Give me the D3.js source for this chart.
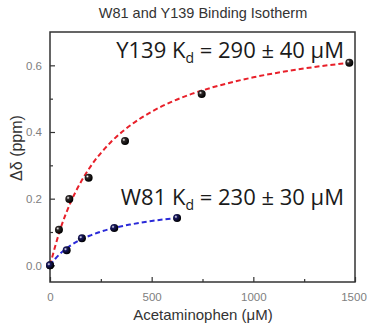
<!DOCTYPE html>
<html>
<head>
<meta charset="utf-8">
<script src="https://cdn.jsdelivr.net/npm/d3@7"></script>
<style>
  body { margin: 0; background: #fff; }
  svg { display: block; }
</style>
</head>
<body>
<svg id="chart" width="367" height="324"></svg>
<script>
// Y139 measured points
const y139X = [0, 44, 95, 190, 369, 746, 1472];
const y139Y = [0, 0.107, 0.199, 0.263, 0.373, 0.514, 0.608];
// W81 measured points
const w81X = [0, 82, 157, 316, 625];
const w81Y = [0, 0.045, 0.081, 0.112, 0.142];
// fitted binding curves
const y139FitX = [0, 50, 100, 150, 200, 300, 400, 500, 600, 700, 800, 1000, 1200, 1475];
const y139FitY = [0, 0.107, 0.187, 0.248, 0.297, 0.370, 0.422, 0.461, 0.491, 0.515, 0.534, 0.564, 0.586, 0.608];
const w81FitX = [0, 25, 50, 100, 150, 200, 300, 400, 500, 625];
const w81FitY = [0, 0.019, 0.035, 0.059, 0.077, 0.090, 0.110, 0.123, 0.133, 0.142];

const xMajor = [0, 500, 1000, 1500];
const xMinor = [250, 750, 1250];
const yMajor = [0, 0.2, 0.4, 0.6];
const yMinor = [0.1, 0.3, 0.5];

const svg = d3.select("#chart");
const margin = {top: 32, right: 12, bottom: 42, left: 50};
const width = 367 - margin.left - margin.right,
      height = 324 - margin.top - margin.bottom;

const x = d3.scaleLinear().domain([0, 1500]).range([0, width]);
const y = d3.scaleLinear().domain([-0.05, 0.70]).range([height, 0]);

// gradients for the shaded ball markers
const defs = svg.append("defs");
function ball(id, dark) {
  const g = defs.append("radialGradient").attr("id", id)
    .attr("cx", "35%").attr("cy", "35%").attr("r", "65%");
  g.append("stop").attr("offset", "0%").attr("stop-color", "#ffffff");
  g.append("stop").attr("offset", "30%").attr("stop-color", dark);
  g.append("stop").attr("offset", "100%").attr("stop-color", "#000000");
}
ball("ballRed", "#2e2828");
ball("ballBlue", "#181860");

// title
svg.append("text")
  .attr("x", 203).attr("y", 18)
  .attr("text-anchor", "middle")
  .style("font-family", "Liberation Sans, Arial, sans-serif")
  .style("font-size", "14.5px")
  .style("fill", "#333")
  .text("W81 and Y139 Binding Isotherm");

const g = svg.append("g")
  .attr("transform", "translate(" + margin.left + "," + margin.top + ")");

// frame
g.append("rect")
  .attr("x", 0).attr("y", 0)
  .attr("width", width).attr("height", height)
  .attr("fill", "none")
  .attr("stroke", "#333")
  .attr("stroke-width", 1.5);

// ticks point inward
const tickStyle = sel => {
  sel.select(".domain").remove();
  sel.selectAll(".tick line").attr("stroke", "#333").attr("stroke-width", 1.2);
  sel.selectAll(".tick text")
    .style("font-family", "Liberation Sans, Arial, sans-serif")
    .style("font-size", "11.5px")
    .style("fill", "#808080");
};

g.append("g")
  .attr("transform", "translate(0," + height + ")")
  .call(d3.axisBottom(x).tickValues(xMajor).tickSizeInner(-5).tickSizeOuter(0)
    .tickPadding(11).tickFormat(d3.format("d")))
  .call(tickStyle)
  .selectAll(".tick text")
    .attr("dx", d => d === 1500 ? -1.5 : 0);
g.append("g")
  .attr("transform", "translate(0," + height + ")")
  .call(d3.axisBottom(x).tickValues(xMinor).tickSizeInner(-3).tickSizeOuter(0).tickFormat(""))
  .call(tickStyle);

g.append("g")
  .call(d3.axisLeft(y).tickValues(yMajor).tickSizeInner(-5).tickSizeOuter(0)
    .tickPadding(8).tickFormat(d3.format(".1f")))
  .call(tickStyle);
g.append("g")
  .call(d3.axisLeft(y).tickValues(yMinor).tickSizeInner(-3).tickSizeOuter(0).tickFormat(""))
  .call(tickStyle);

// axis titles
svg.append("text")
  .attr("x", 203).attr("y", 320)
  .attr("text-anchor", "middle")
  .style("font-family", "Liberation Sans, Arial, sans-serif")
  .style("font-size", "15px")
  .style("fill", "#333")
  .text("Acetaminophen (\u03bcM)");

svg.append("text")
  .attr("transform", "translate(22,148) rotate(-90)")
  .attr("text-anchor", "middle")
  .style("font-family", "Liberation Sans, Arial, sans-serif")
  .style("font-size", "16px")
  .style("fill", "#333")
  .text("\u0394\u03b4 (ppm)");

// fitted curves
const line = d3.line()
  .x(d => x(d[0]))
  .y(d => y(d[1]))
  .curve(d3.curveMonotoneX);

g.append("path")
  .datum(y139FitX.map((v, i) => [v, y139FitY[i]]))
  .attr("d", line)
  .attr("fill", "none")
  .attr("stroke", "#e8202a")
  .attr("stroke-width", 2)
  .attr("stroke-dasharray", "5,3");

g.append("path")
  .datum(w81FitX.map((v, i) => [v, w81FitY[i]]))
  .attr("d", line)
  .attr("fill", "none")
  .attr("stroke", "#2a2ad8")
  .attr("stroke-width", 2)
  .attr("stroke-dasharray", "5,3");

// points
g.append("g").selectAll("circle")
  .data(y139X.map((v, i) => [v, y139Y[i]]))
  .enter().append("circle")
    .attr("cx", d => x(d[0]))
    .attr("cy", d => y(d[1]))
    .attr("r", 4)
    .attr("fill", "url(#ballRed)");

g.append("g").selectAll("circle")
  .data(w81X.map((v, i) => [v, w81Y[i]]))
  .enter().append("circle")
    .attr("cx", d => x(d[0]))
    .attr("cy", d => y(d[1]))
    .attr("r", 4)
    .attr("fill", "url(#ballBlue)");

// Kd annotations
function kd(label, value, ty) {
  const t = svg.append("text")
    .attr("x", 344).attr("y", ty)
    .attr("text-anchor", "end")
    .style("font-family", "Open Sans, sans-serif")
    .style("font-size", "22px")
    .style("fill", "#1a1a1a");
  t.append("tspan").text(label + " K");
  t.append("tspan").attr("dy", 5).style("font-size", "14px").text("d");
  t.append("tspan").attr("dy", -5).text(" = " + value + " \u03bcM");
}
kd("Y139", "290 \u00b1 40", 58);
kd("W81", "230 \u00b1 30", 205);
</script>
</body>
</html>
